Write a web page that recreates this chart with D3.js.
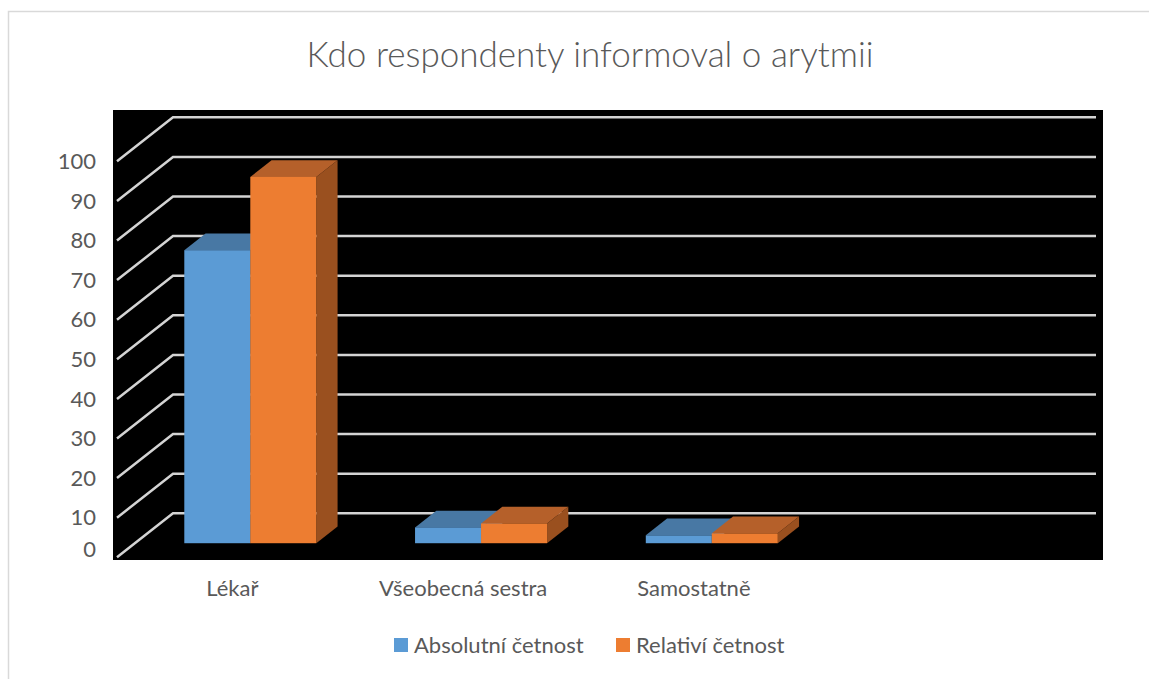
<!DOCTYPE html>
<html>
<head>
<meta charset="utf-8">
<script src="https://cdn.jsdelivr.net/npm/d3@7"></script>
<style>
    body { margin: 0; background: #fff; }
    text { font-family: Lato, "Open Sans", sans-serif; fill: #595959; }
</style>
</head>
<body>
<svg id="chart" width="1149" height="679"></svg>
<script>
// Data
const categories = ['Lékař', 'Všeobecná sestra', 'Samostatně'];
const seriesNames = ['Absolutní četnost', 'Relativí četnost'];
const absolutni = [74, 4, 2];
const relativni = [92.5, 5, 2.5];
const yTicks = [0, 10, 20, 30, 40, 50, 60, 70, 80, 90, 100];
const title = 'Kdo respondenty informoval o arytmii';

const colors = {
    'Absolutní četnost': { front: '#5b9bd5', top: '#4878a4', side: '#3f6a91' },
    'Relativí četnost': { front: '#ed7d31', top: '#b5602a', side: '#9a501f' }
};

const svg = d3.select('#chart');

// outer chart border (runs off the right and bottom edge)
svg.append('rect')
    .attr('x', 8.5).attr('y', 11.5)
    .attr('width', 1200).attr('height', 700)
    .attr('fill', '#fff')
    .attr('stroke', '#d9d9d9')
    .attr('stroke-width', 1.5);

svg.append('text')
    .attr('x', 590).attr('y', 67)
    .attr('text-anchor', 'middle')
    .style('font-size', '35px')
    .style('font-weight', 300)
    .text(title);

// black plot area
svg.append('rect')
    .attr('x', 113).attr('y', 110)
    .attr('width', 990).attr('height', 450)
    .attr('fill', '#000');

// 3D geometry: back wall plus an oblique depth offset towards the viewer
const depth = { dx: -56, dy: 44 };
const barFront = 0.68, barBack = 0.3; // where the bars sit inside the depth

const y = d3.scaleLinear().domain([0, 100]).range([513.3, 117.3]);
// one empty slot after the last category, like in the original
const x = d3.scaleBand().domain([...categories, '']).range([173, 1096]);
const xs = d3.scaleBand().domain(seriesNames).range([0, 132]);

// gridlines: back wall + left side wall
const grid = svg.append('g')
    .attr('stroke', '#d4d4d4')
    .attr('stroke-width', 2.5)
    .attr('fill', 'none');

grid.selectAll('path')
    .data(yTicks)
    .enter()
    .append('path')
    .attr('d', d => `M${173 + depth.dx},${y(d) + depth.dy}L173,${y(d)}L1096,${y(d)}`);

// y labels in the front plane (the 0 label is kept inside the plot area)
svg.append('g')
    .selectAll('text')
    .data(yTicks)
    .enter()
    .append('text')
    .attr('x', 96)
    .attr('y', d => Math.min(y(d) + depth.dy, 549))
    .attr('dy', '0.35em')
    .attr('text-anchor', 'end')
    .style('font-size', '22px')
    .text(d => d);

// bars
const bars = [];
categories.forEach((c, i) => {
    bars.push({ cat: c, s: seriesNames[0], v: absolutni[i] });
    bars.push({ cat: c, s: seriesNames[1], v: relativni[i] });
});

const ddx = (barFront - barBack) * -depth.dx;
const ddy = (barFront - barBack) * -depth.dy;

const barG = svg.append('g')
    .selectAll('g')
    .data(bars)
    .enter()
    .append('g');

function geom(d) {
    const cx = x(d.cat) + x.bandwidth() / 2;
    const x0 = cx - 66 + xs(d.s) + barFront * depth.dx;
    const x1 = x0 + xs.bandwidth();
    const yT = y(d.v) + barFront * depth.dy;
    const yB = y(0) + barFront * depth.dy;
    return { x0, x1, yT, yB };
}

barG.append('path')
    .attr('fill', d => colors[d.s].side)
    .attr('d', d => {
        const g = geom(d);
        return `M${g.x1},${g.yT}L${g.x1 + ddx},${g.yT + ddy}L${g.x1 + ddx},${g.yB + ddy}L${g.x1},${g.yB}Z`;
    });

barG.append('path')
    .attr('fill', d => colors[d.s].top)
    .attr('d', d => {
        const g = geom(d);
        return `M${g.x0},${g.yT}L${g.x1},${g.yT}L${g.x1 + ddx},${g.yT + ddy}L${g.x0 + ddx},${g.yT + ddy}Z`;
    });

barG.append('rect')
    .attr('fill', d => colors[d.s].front)
    .attr('x', d => geom(d).x0)
    .attr('y', d => geom(d).yT)
    .attr('width', xs.bandwidth())
    .attr('height', d => geom(d).yB - geom(d).yT);

// category labels, centred in the front plane
svg.append('g')
    .selectAll('text')
    .data(categories)
    .enter()
    .append('text')
    .attr('x', d => x(d) + x.bandwidth() / 2 + depth.dx)
    .attr('y', 588)
    .attr('dy', '0.35em')
    .attr('text-anchor', 'middle')
    .style('font-size', '22px')
    .text(d => d);

// legend
const legendX = [394, 616];
const legend = svg.append('g')
    .selectAll('g')
    .data(seriesNames)
    .enter()
    .append('g')
    .attr('transform', (d, i) => `translate(${legendX[i]},638)`);

legend.append('rect')
    .attr('width', 14).attr('height', 14)
    .attr('fill', d => colors[d].front);

legend.append('text')
    .attr('x', 20).attr('y', 7)
    .attr('dy', '0.35em')
    .style('font-size', '22px')
    .text(d => d);
</script>
</body>
</html>
